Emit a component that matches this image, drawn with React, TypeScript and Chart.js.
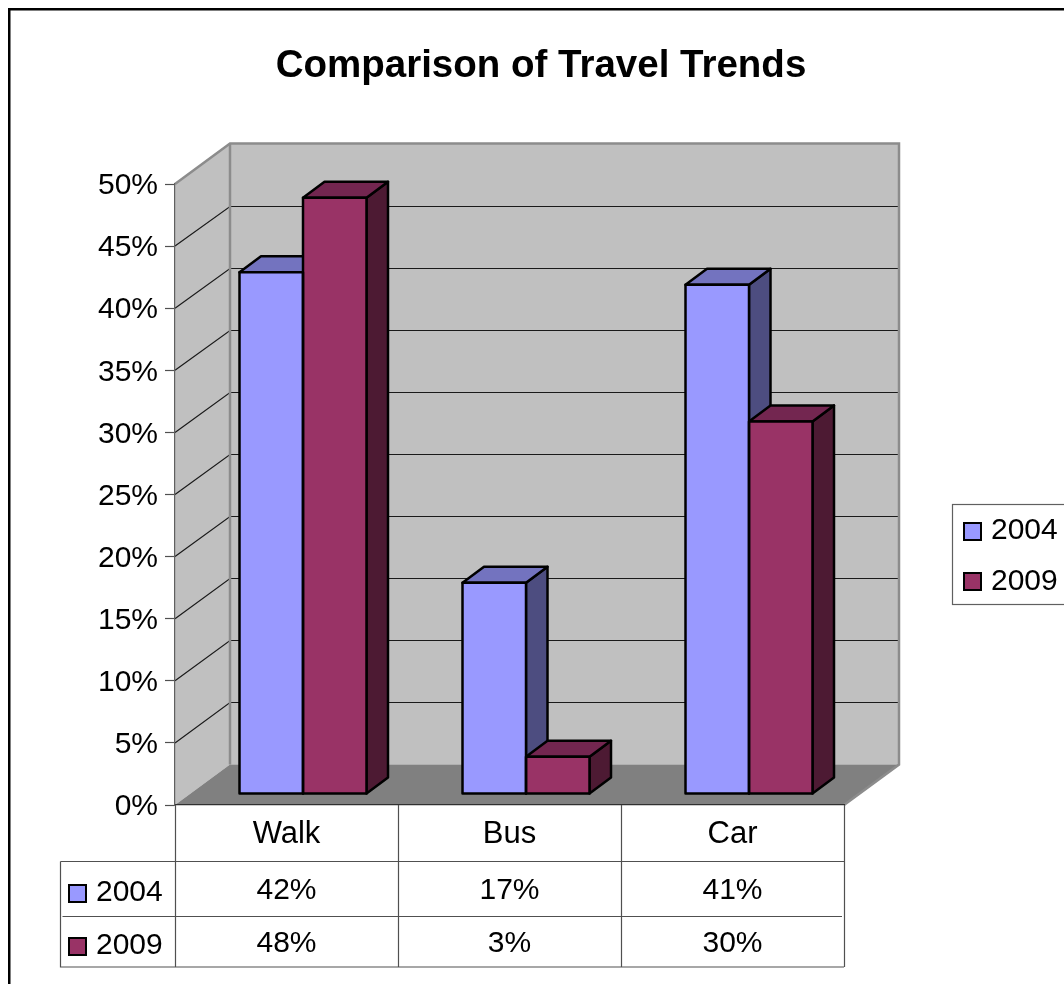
import React, { useEffect, useRef } from "react";
import { Chart, registerables } from "chart.js";

Chart.register(...registerables);

const categories = ["Walk", "Bus", "Car"];
const seriesNames = ["2004", "2009"];
const values2004 = [42, 17, 41];
const values2009 = [48, 3, 30];
const yMax = 50;
const yStep = 5;

const chartTitle = "Comparison of Travel Trends";
const FONT = "'Liberation Sans', Arial, sans-serif";
const colors = ["#9999FF", "#993366"];
const topColors = ["#7373BF", "#732650"];
const sideColors = ["#4D4D80", "#4D1A33"];
const WALL = "#C0C0C0";
const FLOOR = "#808080";
const WALL_EDGE = "#8C8C8C";
const TABLE_LINE = "#505050";

const depth = { x: 55, y: -40.5 };
const barDepth = { x: 21.5, y: -16 };
const barShift = { x: 16.5, y: -11 };

function poly(ctx: CanvasRenderingContext2D, pts: number[][]) {
  ctx.beginPath();
  pts.forEach((p, i) => (i ? ctx.lineTo(p[0], p[1]) : ctx.moveTo(p[0], p[1])));
  ctx.closePath();
}

const sceneryPlugin = {
  id: "scenery",
  beforeDraw(chart: any) {
    const { ctx, chartArea: a, scales } = chart;
    const y = scales.y;
    ctx.save();
    ctx.fillStyle = "#fff";
    ctx.fillRect(0, 0, chart.width, chart.height);
    // outer frame
    ctx.strokeStyle = "#000";
    ctx.lineWidth = 2.5;
    ctx.strokeRect(9.25, 9.25, chart.width + 40, chart.height + 40);

    const L = a.left, R = a.right, T = a.top, B = a.bottom;
    const dx = depth.x, dy = depth.y;
    ctx.fillStyle = WALL;
    poly(ctx, [[L, T], [L + dx, T + dy], [L + dx, B + dy], [L, B]]);
    ctx.fill();
    ctx.fillRect(L + dx, T + dy, R - L, B - T);
    ctx.fillStyle = FLOOR;
    poly(ctx, [[L, B], [L + dx, B + dy], [R + dx, B + dy], [R, B]]);
    ctx.fill();

    // gridlines
    ctx.strokeStyle = "#1a1a1a";
    ctx.lineWidth = 1.2;
    for (let v = yStep; v < yMax; v += yStep) {
      const py = y.getPixelForValue(v);
      const back = Math.round(py + dy) + 0.5;
      ctx.beginPath();
      ctx.moveTo(L, py);
      ctx.lineTo(L + dx, back);
      ctx.lineTo(R + dx, back);
      ctx.stroke();
    }
    // wall edges
    ctx.strokeStyle = WALL_EDGE;
    ctx.lineWidth = 2.5;
    ctx.beginPath();
    ctx.moveTo(L, T);
    ctx.lineTo(L + dx, T + dy);
    ctx.lineTo(R + dx, T + dy);
    ctx.lineTo(R + dx, B + dy);
    ctx.lineTo(R, B);
    ctx.moveTo(L + dx, T + dy);
    ctx.lineTo(L + dx, B + dy);
    ctx.stroke();
    ctx.restore();
  },
  beforeDatasetsDraw(chart: any) {
    const { ctx } = chart;
    ctx.save();
    ctx.translate(barShift.x, barShift.y);
    ctx.lineWidth = 2.5;
    ctx.strokeStyle = "#000";
    ctx.lineJoin = "round";
    categories.forEach((_, i) => {
      chart.data.datasets.forEach((_d: any, di: number) => {
        const b = chart.getDatasetMeta(di).data[i];
        const l = b.x - b.width / 2, r = b.x + b.width / 2;
        const t = b.y, base = b.base;
        const ddx = barDepth.x, ddy = barDepth.y;
        ctx.fillStyle = sideColors[di];
        poly(ctx, [[r, t], [r + ddx, t + ddy], [r + ddx, base + ddy], [r, base]]);
        ctx.fill();
        ctx.stroke();
        ctx.fillStyle = topColors[di];
        poly(ctx, [[l, t], [l + ddx, t + ddy], [r + ddx, t + ddy], [r, t]]);
        ctx.fill();
        ctx.stroke();
      });
    });
  },
  afterDatasetsDraw(chart: any) {
    const { ctx } = chart;
    chart.data.datasets.forEach((_d: any, di: number) => {
      chart.getDatasetMeta(di).data.forEach((b: any) => {
        ctx.strokeRect(b.x - b.width / 2, b.y, b.width, b.base - b.y);
      });
    });
    ctx.restore();
  },
  afterDraw(chart: any) {
    const { ctx, chartArea: a, scales } = chart;
    const x = scales.x;
    const rowA = 861.5, rowB = 916.5, rowC = 967;
    const leftCol = 60.5;
    ctx.save();
    // data table lines
    ctx.strokeStyle = TABLE_LINE;
    ctx.lineWidth = 1.2;
    ctx.beginPath();
    const colW = (a.right - a.left) / categories.length;
    for (let i = 0; i <= categories.length; i++) {
      const cx = Math.round(a.left + i * colW) + 0.5;
      ctx.moveTo(cx, a.bottom);
      ctx.lineTo(cx, rowC);
    }
    ctx.moveTo(leftCol, rowA);
    ctx.lineTo(a.right, rowA);
    ctx.moveTo(leftCol + 2, rowB);
    ctx.lineTo(a.right - 2, rowB);
    ctx.moveTo(leftCol, rowA);
    ctx.lineTo(leftCol, rowC);
    ctx.lineTo(a.right, rowC);
    ctx.stroke();

    ctx.font = `30px ${FONT}`;
    ctx.fillStyle = "#000";
    ctx.textBaseline = "middle";
    const rows = [891, 944];
    const tableKeys = [885, 938];
    chart.data.datasets.forEach((d: any, di: number) => {
      ctx.textAlign = "center";
      d.data.forEach((v: number, i: number) => {
        ctx.fillText(`${v}%`, x.getPixelForValue(i), rows[di]);
      });
      ctx.textAlign = "left";
      ctx.fillText(d.label, 96, rows[di] + 2);
      ctx.fillStyle = colors[di];
      ctx.fillRect(69, tableKeys[di], 17, 17);
      ctx.strokeStyle = "#000";
      ctx.lineWidth = 2;
      ctx.strokeRect(69, tableKeys[di], 17, 17);
      ctx.fillStyle = "#000";
    });

    // legend
    ctx.strokeStyle = "#606060";
    ctx.lineWidth = 1.2;
    ctx.fillStyle = "#fff";
    ctx.fillRect(952.5, 504.5, 200, 100);
    ctx.strokeRect(952.5, 504.5, 200, 100);
    const legendKeys = [523, 573];
    const legendText = [531, 582];
    chart.data.datasets.forEach((d: any, di: number) => {
      ctx.fillStyle = colors[di];
      ctx.fillRect(964, legendKeys[di], 17, 17);
      ctx.strokeStyle = "#000";
      ctx.lineWidth = 2;
      ctx.strokeRect(964, legendKeys[di], 17, 17);
      ctx.fillStyle = "#000";
      ctx.textAlign = "left";
      ctx.fillText(d.label, 991, legendText[di]);
    });
    ctx.restore();
  },
};

export default function App() {
  const ref = useRef<HTMLCanvasElement | null>(null);
  useEffect(() => {
    if (!ref.current) return;
    const chart = new Chart(ref.current, {
      type: "bar",
      data: {
        labels: categories,
        datasets: [
          { label: seriesNames[0], data: values2004, backgroundColor: colors[0], borderWidth: 0, clip: false },
          { label: seriesNames[1], data: values2009, backgroundColor: colors[1], borderWidth: 0, clip: false },
        ] as any,
      },
      plugins: [sceneryPlugin as any],
      options: {
        responsive: false,
        animation: false,
        devicePixelRatio: 1,
        font: { family: FONT },
        layout: { padding: { left: 18, right: 0, top: 0, bottom: 0 } },
        datasets: { bar: { categoryPercentage: 127 / 223, barPercentage: 1 } },
        plugins: {
          legend: { display: false },
          tooltip: { enabled: false },
          title: {
            display: true,
            text: chartTitle,
            color: "#000",
            font: { family: FONT, size: 38.5, weight: "bold" },
            padding: { top: 42.9, bottom: 94.9 },
          },
        },
        scales: {
          x: {
            grid: { display: false, drawTicks: false },
            border: { display: true, color: "#303030", width: 1.2 },
            ticks: { color: "#000", font: { family: FONT, size: 31 }, padding: 11, maxRotation: 0 },
            afterFit: (s: any) => { s.height = 179; },
          },
          y: {
            min: 0,
            max: yMax,
            grid: { drawOnChartArea: false, tickLength: 10, tickColor: "#505050", tickWidth: 1.2 },
            border: { display: true, color: "#606060", width: 1.2 },
            ticks: {
              stepSize: yStep,
              color: "#000",
              padding: 7,
              labelOffset: 2,
              font: { family: FONT, size: 30 },
              callback: (v: any) => `${v}%`,
            },
            afterFit: (s: any) => { s.width = 157; },
          },
          y2: {
            position: "right",
            grid: { display: false, drawTicks: false },
            border: { display: false },
            ticks: { display: false },
            afterFit: (s: any) => { s.width = 220; },
          },
        },
      } as any,
    });
    return () => chart.destroy();
  }, []);
  return (
    <div style={{ position: "absolute", left: 0, top: 0, width: 1064, height: 984, overflow: "hidden", background: "#fff" }}>
      <canvas ref={ref} width={1064} height={984} style={{ display: "block" }} />
    </div>
  );
}
